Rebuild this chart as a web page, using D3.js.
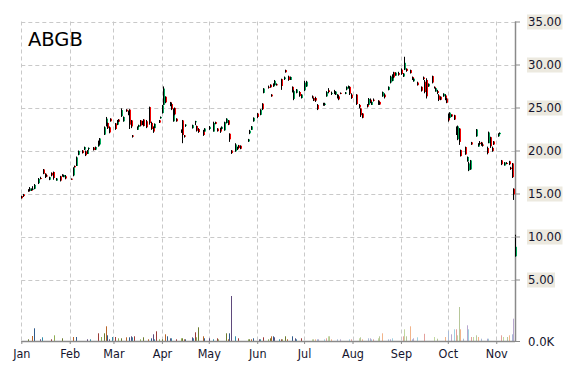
<!DOCTYPE html>
<html>
<head>
<meta charset="utf-8">
<script src="https://cdn.jsdelivr.net/npm/d3@7"></script>
<style>
  body { margin: 0; background: #fff; }
  svg { display: block; font-family: "DejaVu Sans Condensed", "DejaVu Sans", sans-serif; }
</style>
</head>
<body>
<div id="chart"></div>
<script>
const symbol = "ABGB";
const year = "2015";
const priceTicks = [5, 10, 15, 20, 25, 30, 35];

// daily candles (MM-DD)
const candleDates = ["01-01","01-02","01-05","01-06","01-07","01-08","01-09","01-12","01-13","01-15","01-16","01-17","01-19","01-20","01-21","01-23","01-26","01-27","01-28","01-29",
  "02-02","02-03","02-04","02-05","02-06","02-09","02-10","02-11","02-12","02-13","02-16","02-17","02-19","02-20","02-23","02-24","02-25","02-26","02-27",
  "03-02","03-03","03-04","03-06","03-07","03-09","03-10","03-11","03-12","03-13","03-16","03-17","03-18","03-19","03-20","03-22","03-24","03-25","03-26","03-27","03-30","03-31",
  "04-01","04-02","04-03","04-06","04-07","04-08","04-09","04-10","04-13","04-14","04-15","04-16","04-20","04-22","04-23","04-24","04-27","04-28",
  "05-01","05-04","05-05","05-06","05-08","05-09","05-11","05-12","05-13","05-14","05-15","05-18","05-19","05-20","05-21","05-26","05-27","05-28","05-29",
  "06-01","06-03","06-04","06-05","06-08","06-09","06-10","06-11","06-12","06-13","06-16","06-18","06-19","06-21","06-22","06-23","06-24","06-26","06-28","06-29",
  "07-01","07-02","07-06","07-07","07-08","07-09","07-13","07-14","07-15","07-16","07-18","07-20","07-21","07-22","07-23","07-24","07-27","07-28","07-29","07-30","07-31",
  "08-03","08-05","08-06","08-07","08-10","08-11","08-12","08-13","08-14","08-17","08-18","08-20","08-21","08-24","08-25","08-26","08-27","08-28","08-30",
  "09-01","09-02","09-03","09-04","09-07","09-08","09-09","09-11","09-14","09-15","09-16","09-17","09-18","09-21","09-22","09-23","09-24","09-25","09-26","09-28","09-29","09-30",
  "10-01","10-02","10-03","10-05","10-06","10-07","10-08","10-09","10-12","10-13","10-14","10-15","10-16","10-19","10-20","10-21","10-22","10-23","10-26","10-27","10-28","10-29","10-30",
  "11-02","11-03","11-04","11-06","11-07","11-09","11-10","11-11","11-12","11-13"];
const opens = [14.70,14.90,15.45,15.30,15.45,15.50,15.55,16.20,16.80,17.80,17.30,17.10,16.60,17.40,17.50,16.50,17.00,17.10,16.90,17.00,
  16.72,17.10,18.20,18.20,19.50,20.00,20.10,19.90,19.60,20.20,20.35,20.10,20.50,20.70,21.85,22.90,23.20,22.70,23.70,
  23.15,23.00,23.60,24.00,23.40,24.75,24.60,24.75,23.50,21.75,22.40,22.75,23.50,23.30,23.60,23.40,25.05,23.20,22.75,22.60,23.50,23.75,
  24.35,25.30,26.25,25.60,25.40,23.40,24.95,23.70,22.40,23.50,21.75,22.90,22.60,23.30,22.85,22.50,22.30,22.20,
  22.50,22.20,23.30,22.55,22.60,22.50,22.35,23.20,23.50,21.95,20.00,19.90,20.30,20.60,20.55,21.05,22.00,22.40,23.40,
  24.30,24.15,25.45,26.70,27.40,27.65,26.50,27.45,27.60,27.70,28.30,28.30,29.35,28.60,28.20,27.40,26.00,26.70,26.80,26.10,
  27.00,27.45,26.30,26.10,26.10,25.30,25.40,25.30,26.30,27.00,26.60,26.70,26.50,26.50,26.30,26.70,26.60,27.10,27.25,27.40,26.50,
  26.50,25.30,24.90,24.30,25.30,25.30,25.90,25.30,25.90,25.80,25.65,26.30,26.50,27.05,27.90,28.10,29.10,28.70,29.00,
  29.40,28.60,29.40,29.50,29.35,28.55,28.05,27.90,27.40,28.50,28.00,28.20,27.45,28.65,27.40,26.85,26.90,26.40,26.25,26.30,26.40,26.05,
  24.20,23.80,24.20,24.10,22.70,21.30,22.55,20.05,20.40,18.75,17.70,17.80,20.95,21.65,20.45,20.90,20.95,20.70,20.30,20.85,21.55,20.30,21.05,
  21.65,21.90,18.85,18.25,18.55,18.75,18.00,18.50,15.55,7.70];
const highs = [14.75,14.95,15.50,15.75,15.60,15.85,16.10,16.80,16.95,17.85,17.35,17.20,16.95,17.45,17.55,16.80,17.05,17.25,17.20,17.15,
  16.75,18.05,18.25,19.30,20.00,20.05,20.45,20.00,20.05,20.35,20.40,20.45,21.15,21.45,22.80,23.90,23.25,22.80,23.75,
  23.20,23.55,23.65,24.90,23.95,24.80,24.65,24.80,23.55,21.80,22.80,23.00,23.55,23.45,23.65,23.55,25.10,23.35,22.80,23.15,23.55,23.95,
  25.30,27.45,26.30,25.65,25.55,24.90,25.00,23.75,22.45,23.55,21.80,23.05,23.00,23.45,22.90,22.60,22.40,22.60,
  22.85,23.35,23.35,22.60,22.65,22.80,23.35,23.75,23.55,22.00,20.05,20.85,20.45,20.65,20.60,21.35,22.40,22.85,23.85,
  24.35,24.80,25.50,27.25,27.55,27.70,26.55,27.80,28.20,27.80,28.35,28.60,29.40,28.70,28.60,27.45,27.05,27.15,26.90,26.55,
  28.10,28.10,26.40,26.15,26.25,25.40,25.55,25.55,26.90,27.25,26.85,27.05,26.90,26.55,26.45,26.75,26.80,27.45,27.55,27.45,26.65,
  26.55,25.40,24.90,24.35,25.40,26.10,26.05,25.70,26.05,25.85,25.70,26.85,26.65,27.45,28.70,28.85,29.15,29.10,29.15,
  29.55,29.00,30.90,29.55,29.40,28.60,28.40,28.00,27.45,28.60,28.20,28.40,27.80,28.70,27.45,27.30,27.05,26.55,26.30,26.65,26.55,26.10,
  24.30,24.45,24.20,24.15,22.80,22.90,22.60,20.10,20.45,19.30,18.70,18.90,21.00,22.50,20.85,21.10,21.00,20.85,20.45,22.20,21.60,20.45,21.10,
  22.00,22.10,18.90,18.65,18.65,18.80,18.10,18.55,15.60,10.20];
const lows = [14.40,14.60,15.20,15.25,15.30,15.40,15.50,16.10,16.65,17.25,16.80,16.95,16.55,17.00,16.60,16.50,16.40,16.95,16.90,16.65,
  16.60,17.00,18.00,18.20,19.45,19.65,20.05,19.35,19.60,20.00,20.00,20.05,20.45,20.65,21.80,22.80,22.50,22.00,23.35,
  22.40,22.95,23.30,23.90,23.35,24.50,24.10,22.50,22.60,21.50,22.40,22.70,22.80,22.95,22.80,22.60,23.00,22.40,22.05,22.60,23.20,23.70,
  24.30,25.30,25.50,25.15,24.70,23.35,24.10,23.35,22.05,20.85,21.50,22.75,22.55,22.95,22.20,22.05,21.70,22.20,
  22.40,22.20,23.05,22.20,22.05,22.45,22.30,23.15,22.95,21.00,19.60,19.85,20.05,20.25,20.15,21.00,21.90,22.40,23.35,
  23.75,24.10,24.70,26.65,27.20,27.30,26.25,27.40,27.55,27.55,27.05,28.20,29.05,28.10,28.20,26.75,25.85,26.65,26.25,26.05,
  26.90,27.40,26.05,25.75,25.65,24.70,25.20,25.20,26.25,26.65,26.45,26.55,26.45,26.05,25.85,26.55,26.55,27.00,27.20,26.45,26.00,
  25.30,24.90,23.90,23.75,25.00,25.30,25.50,25.30,25.70,25.30,25.30,26.25,26.05,27.00,27.80,28.05,28.40,28.70,28.70,
  28.80,28.55,29.35,29.15,28.95,28.20,28.00,27.55,26.85,28.20,26.65,26.05,27.40,27.80,27.20,26.85,26.55,25.75,25.85,26.25,25.85,25.50,
  23.35,23.75,23.90,23.55,21.80,21.20,20.65,19.30,19.50,18.70,17.60,17.75,20.65,21.60,20.45,20.65,20.55,20.45,19.55,20.85,20.30,19.85,20.65,
  21.60,21.90,18.30,18.25,18.40,18.30,17.75,16.80,14.25,7.65];
const closes = [14.45,14.70,15.25,15.60,15.40,15.55,16.00,16.70,16.75,17.30,16.90,17.00,16.90,17.10,16.80,16.75,16.50,17.15,17.15,16.75,
  16.62,17.95,18.05,19.20,19.95,19.70,20.40,19.45,20.00,20.30,20.05,20.40,21.00,21.40,22.70,23.70,22.60,22.10,23.40,
  22.50,23.50,23.35,24.70,23.90,24.55,24.20,23.00,22.80,21.60,22.75,22.95,22.90,23.05,22.85,22.70,23.20,22.50,22.20,23.10,23.25,23.90,
  25.25,27.20,25.60,25.20,24.80,24.60,24.20,23.40,22.10,21.80,21.60,23.00,22.95,23.40,22.30,22.15,21.80,22.55,
  22.75,23.20,23.10,22.25,22.20,22.75,23.30,23.70,23.00,21.30,19.70,20.70,20.15,20.30,20.20,21.30,22.30,22.80,23.80,
  23.90,24.75,24.80,27.20,27.30,27.35,26.30,27.75,28.10,27.60,27.50,28.50,29.10,28.20,28.55,26.80,26.90,27.10,26.35,26.50,
  27.90,28.00,26.15,25.80,25.80,24.80,25.30,25.45,26.80,26.80,26.70,26.90,26.85,26.10,25.95,26.60,26.75,27.40,27.50,26.60,26.10,
  25.40,25.00,24.10,23.80,25.10,26.00,25.60,25.65,25.80,25.40,25.35,26.80,26.20,27.40,28.60,28.80,28.50,29.05,28.80,
  28.90,28.95,30.20,29.25,29.00,28.30,28.35,27.60,26.95,28.30,26.80,26.30,27.75,27.90,27.30,27.25,26.70,25.90,25.90,26.60,26.00,25.55,
  23.50,24.40,23.95,23.60,21.90,22.80,21.00,19.35,19.55,19.25,18.50,18.85,20.70,22.45,20.80,20.75,20.65,20.55,19.70,22.10,20.50,19.95,20.70,
  21.95,22.05,18.40,18.60,18.50,18.40,17.85,16.90,14.90,8.80];

// daily volume in thousands (MM-DD)
const volDates = ["01-05","01-08","01-09","01-13","01-14","01-20","01-22","01-27","02-03","02-05","02-12","02-14","02-19","02-21","02-23","02-24","02-25","02-26","02-28",
  "03-02","03-04","03-06","03-09","03-11","03-12","03-13","03-14","03-18","03-20","03-23","03-25","03-26","03-27","03-28","03-30",
  "04-01","04-03","04-04","04-06","04-07","04-10","04-13","04-14","04-15","04-16","04-20","04-21","04-22","04-23","04-24","04-27","04-28",
  "05-01","05-04","05-06","05-07","05-12","05-13","05-14","05-15","05-18","05-20","05-26","05-27","05-28","05-29",
  "06-02","06-03","06-05","06-08","06-09","06-10","06-11","06-12","06-15","06-16","06-17","06-19","06-20","06-23","06-25","06-26","06-29",
  "07-06","07-07","07-08","07-09","07-10","07-14","07-15","07-16","07-17","07-18","07-22","07-24","07-30","07-31",
  "08-05","08-06","08-07","08-11","08-12","08-13","08-14","08-17","08-18","08-20","08-24","08-25","08-26",
  "09-02","09-03","09-04","09-07","09-08","09-09","09-11","09-16","09-22","09-24","09-29",
  "10-01","10-03","10-05","10-06","10-07","10-08","10-09","10-11","10-13","10-14","10-16","10-17","10-19","10-20","10-22","10-26","10-27",
  "11-04","11-05","11-08","11-09","11-11","11-12"];
const volumes = [17,50,127,17,37,17,57,27,40,40,17,17,77,40,77,147,57,17,40,
  40,27,27,37,37,47,37,47,17,37,17,27,67,17,97,17,
  17,67,47,27,27,17,27,27,17,17,37,27,87,37,137,47,27,
  27,17,27,17,77,17,77,450,47,27,17,17,17,27,
  17,17,37,17,27,47,47,37,17,17,17,47,17,47,27,17,27,
  17,17,17,17,17,17,27,47,47,17,17,17,17,17,
  27,37,17,27,27,17,17,27,47,77,17,17,27,
  47,117,47,147,17,27,37,72,40,23,40,
  100,67,117,117,57,340,117,23,157,117,40,40,57,40,23,23,23,
  57,40,40,57,67,223];

const volDark = ["#6b7a2e", "#b8652a", "#2f5a8a", "#5f4a7c", "#2f8aa8", "#9a3b38", "#8fae55"];
const volLight = ["#b7c79a", "#f2b48a", "#a9bbd8", "#b9a8cf", "#9fd0e0", "#e3a09c", "#c2d8a0"];

const W = 570, H = 370;
const parse = d3.timeParse("%Y-%m-%d");
const toDate = (s) => parse(year + "-" + s);

const candles = candleDates.map((d, i) => ({
  date: toDate(d), o: opens[i], h: highs[i], l: lows[i], c: closes[i],
}));
const vols = volDates.map((d, i) => ({ date: toDate(d), v: volumes[i] }));

const svg = d3.select("#chart").append("svg").attr("width", W).attr("height", H);

const x = d3.scaleTime()
  .domain([toDate("01-01"), toDate("11-13")])
  .range([21.3, 515]);
const y = d3.scaleLinear().domain([0, 35]).range([322.5, 21.5]);
const yVol = d3.scaleLinear().domain([0, 500]).range([341, 291]);
const plotLeft = x.range()[0], plotRight = x.range()[1];
const plotTop = y(35), plotBase = yVol(0);

// grid
const months = d3.timeMonth.range(toDate("01-01"), toDate("11-14"));
const grid = svg.append("g").attr("stroke", "#c9c9c9").attr("stroke-dasharray", "4,3");
grid.selectAll(".gy").data(priceTicks).join("line")
  .attr("x1", plotLeft).attr("x2", plotRight)
  .attr("y1", (d) => Math.round(y(d)) + 0.5).attr("y2", (d) => Math.round(y(d)) + 0.5);
grid.selectAll(".gx").data(months).join("line")
  .attr("x1", (d) => Math.round(x(d)) + 0.5).attr("x2", (d) => Math.round(x(d)) + 0.5)
  .attr("y1", plotTop).attr("y2", plotBase);

// right axis line (under the marks, the last candle sits on it)
svg.append("line")
  .attr("x1", plotRight + 0.5).attr("x2", plotRight + 0.5)
  .attr("y1", plotTop).attr("y2", plotBase + 1)
  .attr("stroke", "#8a8a8a").attr("stroke-width", 1.5);

// volume bars
svg.append("g").selectAll("line").data(vols).join("line")
  .attr("x1", (d) => Math.round(x(d.date)) + 0.5)
  .attr("x2", (d) => Math.round(x(d.date)) + 0.5)
  .attr("y1", plotBase)
  .attr("y2", (d) => yVol(d.v))
  .attr("stroke", (d, i) => (d.date < toDate("07-05") ? volDark : volLight)[i % 7])
  .attr("stroke-width", 1);

// candles
const cg = svg.append("g").selectAll("g").data(candles).join("g");
cg.append("rect")
  .attr("x", (d) => Math.round(x(d.date)))
  .attr("width", 2)
  .attr("y", (d) => y(Math.max(d.o, d.c)))
  .attr("height", (d) => Math.max(1, Math.abs(y(d.o) - y(d.c))))
  .attr("fill", (d) => (d.c >= d.o ? "#00a85a" : "#f00000"));
cg.append("line")
  .attr("x1", (d) => Math.round(x(d.date)) + 0.5)
  .attr("x2", (d) => Math.round(x(d.date)) + 0.5)
  .attr("y1", (d) => y(d.h))
  .attr("y2", (d) => y(d.l))
  .attr("stroke", "#000");

// bottom axis
const xAxis = svg.append("g")
  .attr("transform", `translate(0,${plotBase})`)
  .call(d3.axisBottom(x).tickValues(months).tickFormat(d3.timeFormat("%b")).tickSize(3).tickPadding(5));
xAxis.select(".domain").attr("stroke", "#8a8a8a").attr("stroke-width", 1.5)
  .attr("d", `M${plotLeft},0.5H${plotRight}`);
xAxis.selectAll(".tick line").attr("stroke", "#8a8a8a");
xAxis.selectAll("text").attr("font-size", 12.5).attr("fill", "#15152e")
  .attr("font-family", '"DejaVu Sans Condensed", "DejaVu Sans", sans-serif');

// right price axis labels
const yAxis = svg.append("g")
  .attr("transform", `translate(${plotRight},0)`)
  .call(d3.axisRight(y).tickValues(priceTicks).tickFormat(d3.format(".2f")).tickSize(5).tickPadding(8));
yAxis.select(".domain").remove();
yAxis.selectAll(".tick line").attr("stroke", "#8a8a8a");
yAxis.selectAll("text").attr("font-size", 13).attr("fill", "#15152e")
  .attr("font-family", '"DejaVu Sans Condensed", "DejaVu Sans", sans-serif');
yAxis.selectAll(".tick").each(function () {
  const t = d3.select(this).select("text");
  const bb = t.node().getBBox();
  d3.select(this).insert("rect", "text")
    .attr("x", bb.x - 1).attr("width", bb.width + 2)
    .attr("y", -7.5).attr("height", 15)
    .attr("fill", "#ece9df");
});

const vAxis = svg.append("g")
  .attr("transform", `translate(${plotRight},0)`)
  .call(d3.axisRight(yVol).tickValues([0]).tickFormat((d) => d3.format(".1f")(d) + "K").tickSize(5).tickPadding(8));
vAxis.select(".domain").remove();
vAxis.selectAll(".tick line").attr("stroke", "#8a8a8a");
vAxis.selectAll("text").attr("font-size", 13).attr("fill", "#15152e")
  .attr("font-family", '"DejaVu Sans Condensed", "DejaVu Sans", sans-serif');

// title
svg.append("text")
  .attr("x", 28).attr("y", 45.5)
  .attr("font-family", '"DejaVu Sans", sans-serif')
  .attr("font-size", 19.5)
  .attr("fill", "#000")
  .text(symbol);
</script>
</body>
</html>
